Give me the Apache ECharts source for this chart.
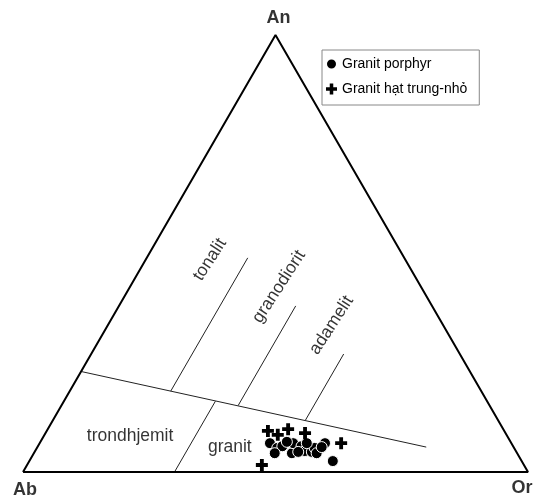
<!DOCTYPE html>
<html>
<head>
<meta charset="utf-8">
<script src="https://cdn.jsdelivr.net/npm/echarts@6/dist/echarts.min.js"></script>
<style>
  html, body { margin: 0; padding: 0; background: #fff; }
  #chart { width: 536px; height: 499px; }
</style>
</head>
<body>
<div id="chart"></div>
<script>
// All compositions are ternary [An, Ab, Or] in percent.
const vertexNames = ['An', 'Ab', 'Or'];
const vertexComps = [[100, 0, 0], [0, 100, 0], [0, 0, 100]];

// Field boundaries (O'Connor An-Ab-Or classification)
const boundaries = [
  [[23, 77, 0], [5.7, 17.3, 77]],
  [[18.5, 61.5, 20], [49, 31, 20]],
  [[15.2, 49.8, 35], [38, 27, 35]],
  [[11.8, 38.2, 50], [27, 23, 50]],
  [[0, 70, 30], [16.2, 53.8, 30]]
];

const fieldNames = ['tonalit', 'granodiorit', 'adamelit', 'trondhjemit', 'granit'];
const fieldComps = [[48.6, 38.7, 12.7], [42.4, 28.1, 29.5], [33.6, 22.1, 44.3], [8.2, 74.7, 17.1], [5.7, 56.2, 38.1]];
const fieldAngles = [57, 57, 57, 0, 0];

const seriesNames = ['Granit porphyr', 'Granit hạt trung-nhỏ'];

// Granit porphyr samples
const porphyr = [
  [6.6, 47.8, 45.6], [5.5, 46.9, 47.6], [5.9, 45.7, 48.4], [4.3, 48.0, 47.7],
  [4.3, 44.6, 51.1], [6.6, 43.2, 50.2], [6.9, 44.3, 48.8], [5.9, 41.9, 52.2],
  [4.8, 41.8, 53.4], [4.6, 40.5, 54.9], [5.5, 39.5, 55.0], [4.3, 39.7, 56.0],
  [6.6, 36.9, 56.5], [5.7, 38.0, 56.3], [2.5, 37.4, 60.1], [6.6, 40.5, 52.9],
  [4.6, 43.2, 52.2]
];

// Granit hat trung-nho samples
const fineGrain = [
  [9.4, 46.8, 43.8], [8.5, 45.3, 46.2], [9.8, 42.6, 47.6],
  [8.9, 39.7, 51.4], [6.6, 33.7, 59.7], [1.6, 51.9, 46.5]
];

const SQ3 = Math.sqrt(3) / 2;
function toXY(c) {
  const an = c[0], or = c[2];
  return [or + an / 2, an * SQ3];
}

const plusPath = 'path://M3.4,0H6.6V3.4H10V6.6H6.6V10H3.4V6.6H0V3.4H3.4Z';
const font = '"Liberation Sans", Arial, sans-serif';

const series = [];

// triangle frame
series.push({
  type: 'line', silent: true, clip: false, symbol: 'none', z: 3,
  data: [vertexComps[1], vertexComps[2], vertexComps[0], vertexComps[1]].map(toXY),
  lineStyle: { color: '#000', width: 2 }
});

boundaries.forEach(seg => {
  series.push({
    type: 'line', silent: true, clip: false, symbol: 'none', z: 2,
    data: seg.map(toXY),
    lineStyle: { color: '#222', width: 1 }
  });
});

// field names
series.push({
  type: 'scatter', silent: true, symbolSize: 0, z: 4,
  data: fieldNames.map((n, i) => ({
    value: toXY(fieldComps[i]),
    label: { show: true, formatter: n, position: 'inside', rotate: fieldAngles[i] }
  })),
  label: { color: '#000', fontSize: 17.5, fontFamily: font }
});

// vertex names
const vertexOffsets = [[3, -17], [2, 18], [-6, 16]];
series.push({
  type: 'scatter', silent: true, symbolSize: 0, z: 4,
  data: vertexNames.map((n, i) => ({
    value: toXY(vertexComps[i]),
    label: { show: true, formatter: n, position: 'inside', offset: vertexOffsets[i] }
  })),
  label: { color: '#000', fontSize: 18, fontWeight: 'bold', fontFamily: font }
});

series.push({
  name: seriesNames[0], type: 'scatter', symbol: 'circle', symbolSize: 11, z: 5,
  data: porphyr.map(toXY),
  itemStyle: { color: '#000', borderColor: '#fff', borderWidth: 1, opacity: 1 }
});
series.push({
  name: seriesNames[1], type: 'scatter', symbol: plusPath, symbolSize: 12, z: 6,
  data: fineGrain.map(toXY),
  itemStyle: { color: '#000', opacity: 1 }
});

const chart = echarts.init(document.getElementById('chart'), null, { renderer: 'canvas' });
chart.setOption({
  animation: false,
  backgroundColor: '#fff',
  grid: { left: 23, right: 8, top: 35, bottom: 27 },
  xAxis: { type: 'value', min: 0, max: 100, show: false },
  yAxis: { type: 'value', min: 0, max: 86.6, show: false },
  legend: {
    data: seriesNames,
    orient: 'vertical',
    left: 322, top: 50,
    padding: [7, 12, 9, 3],
    itemGap: 11,
    itemWidth: 11, itemHeight: 11,
    borderColor: '#888', borderWidth: 1,
    textStyle: { color: '#000', fontSize: 14, fontFamily: font },
    selectedMode: false
  },
  series: series
});
</script>
</body>
</html>
